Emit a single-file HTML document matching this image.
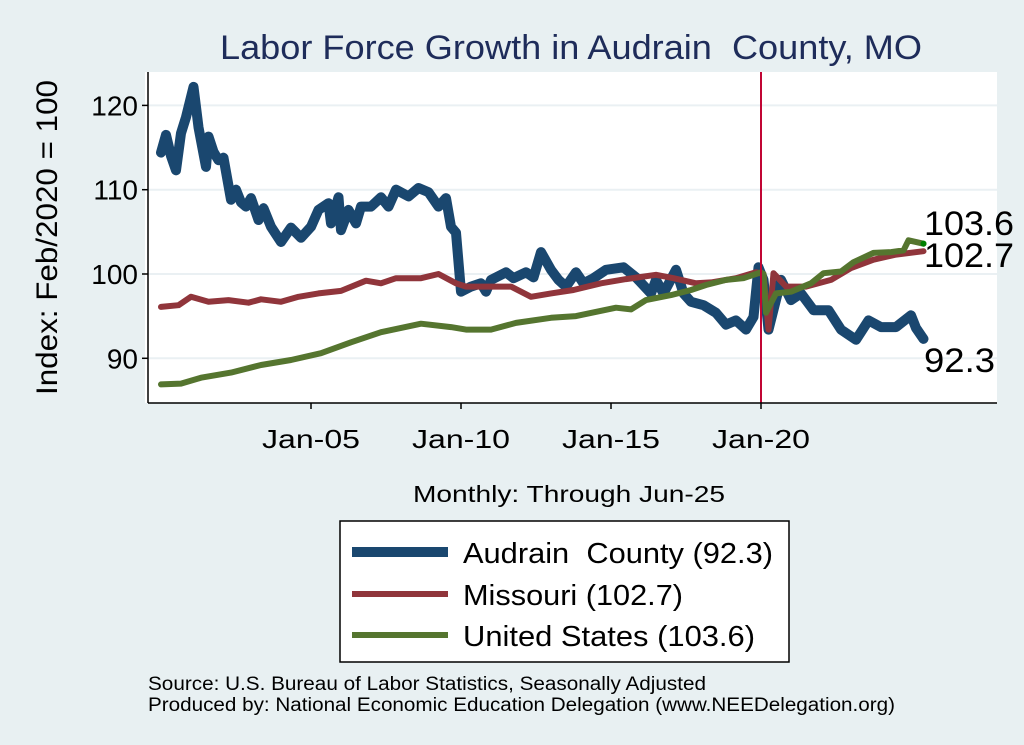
<!DOCTYPE html>
<html><head><meta charset="utf-8"><style>
body{margin:0;background:#e8f0f2;}
svg{display:block;font-family:"Liberation Sans",Arial,sans-serif;}
</style></head><body>
<svg id="chart" width="1024" height="745" viewBox="0 0 1024 745">
<rect x="0" y="0" width="1024" height="745" fill="#e8f0f2"/>
<rect x="145" y="72" width="852" height="331" fill="#ffffff"/>
<text x="220" y="59" font-size="34" fill="#1e2c5a" textLength="702" lengthAdjust="spacingAndGlyphs" xml:space="preserve">Labor Force Growth in Audrain  County, MO</text>
<g id="grid"></g>
<g id="series"></g>
<g id="axes"></g>
<text transform="translate(57,395) rotate(-90)" font-size="30" fill="#000" textLength="315" lengthAdjust="spacingAndGlyphs">Index: Feb/2020 = 100</text>
<text x="413" y="502" font-size="23" fill="#000" textLength="312" lengthAdjust="spacingAndGlyphs">Monthly: Through Jun-25</text>
<g>
<rect x="340" y="521" width="449" height="141" fill="#fff" stroke="#000" stroke-width="1.5"/>
<line x1="352" y1="552" x2="448" y2="552" stroke="#1a476f" stroke-width="10"/>
<text x="463" y="563" font-size="29" textLength="310" lengthAdjust="spacingAndGlyphs" xml:space="preserve">Audrain  County (92.3)</text>
<line x1="352" y1="594" x2="448" y2="594" stroke="#90353b" stroke-width="6"/>
<text x="463" y="605" font-size="29" textLength="220" lengthAdjust="spacingAndGlyphs">Missouri (102.7)</text>
<line x1="352" y1="635" x2="448" y2="635" stroke="#55752f" stroke-width="6"/>
<text x="463" y="646" font-size="29" textLength="292" lengthAdjust="spacingAndGlyphs">United States (103.6)</text>
</g>
<text x="148" y="690" font-size="19" textLength="558" lengthAdjust="spacingAndGlyphs">Source: U.S. Bureau of Labor Statistics, Seasonally Adjusted</text>
<text x="148" y="711" font-size="19" textLength="747" lengthAdjust="spacingAndGlyphs">Produced by: National Economic Education Delegation (www.NEEDelegation.org)</text>
</svg>
<script>
const yTicks=[90,100,110,120];
const xTickLabels=["Jan-05","Jan-10","Jan-15","Jan-20"];
const xTickMonths=[60,120,180,240];
const audrainMonths=[0,2,4,6,8,10,13,15,18,19,21,23,25,28,30,32,34,36,39,41,44,48,52,56,60,63,67,68,71,72,75,78,80,84,88,91,94,99,103,107,111,114,116,118,120,124,128,130,132,138,141,146,149,152,156,159,162,166,169,173,178,185,190,196,198,201,206,209,212,217,222,226,230,234,237,239,241,243,248,252,256,261,267,272,278,283,288,294,300,302,305];
const audrainValues=[114.4,116.5,114,112.3,116.7,118.6,122.2,117.4,112.7,116.3,114.5,113.5,113.8,108.8,110,108.5,108,109,106.4,107.8,105.6,103.8,105.5,104.3,105.6,107.6,108.4,106,109.1,105.2,107.6,106,108,108,109.1,108,110,109.2,110.2,109.7,108,109,105.6,104.9,97.9,98.5,98.9,97.9,99.3,100.2,99.5,100.2,99.6,102.6,100.5,99.3,98.5,100.2,98.9,99.5,100.5,100.8,99.6,97.7,99.3,97.7,100.5,97.7,96.7,96.3,95.4,94,94.5,93.4,94.9,100.8,99.3,93.4,99.3,96.9,97.7,95.7,95.7,93.4,92.2,94.5,93.7,93.7,95.1,93.6,92.3];
const moMonths=[0,7,12,19,27,35,40,48,55,63,72,82,88,94,104,111,118,122,140,148,156,165,176,186,198,205,214,220,230,238,241,243,245,250,258,268,276,285,294,305];
const moValues=[96.1,96.3,97.3,96.7,96.9,96.6,97,96.7,97.3,97.7,98,99.2,98.9,99.5,99.5,100,98.9,98.5,98.5,97.3,97.7,98.1,98.9,99.4,99.9,99.5,98.9,99,99.5,100.2,100,93.4,100.1,98.5,98.5,99.3,100.7,101.7,102.3,102.7];
const usMonths=[0,8,16,28,40,52,64,76,88,104,116,122,132,142,156,166,182,188,194,204,212,218,226,233,240,241,242,246,252,260,265,272,277,285,292,297,299,305];
const usValues=[86.9,87,87.7,88.3,89.2,89.8,90.6,91.9,93.1,94.1,93.7,93.4,93.4,94.2,94.8,95,96,95.8,96.9,97.5,98.1,98.7,99.3,99.5,100.2,100,95.4,97.7,97.9,98.9,100.1,100.3,101.4,102.5,102.6,102.8,104,103.6];
const eventMonth=240;

const X=m=>161+m*2.5;
const Y=v=>274-(v-100)*8.43;
const NS="http://www.w3.org/2000/svg";
function mk(tag,parent,attrs){const e=document.createElementNS(NS,tag);for(const k in attrs)e.setAttribute(k,attrs[k]);parent.appendChild(e);return e;}
const grid=document.getElementById('grid'),series=document.getElementById('series'),axes=document.getElementById('axes');
yTicks.forEach(v=>{
  const g=mk('line',grid,{x1:148,x2:997,y1:Y(v),y2:Y(v),stroke:'#eaf0f3','stroke-width':2});
  
  
  const t=mk('line',axes,{x1:142,x2:148,y1:Y(v),y2:Y(v),stroke:'#000','stroke-width':1.5});
  
  
  const l=mk('text',axes,{x:138,y:Y(v)+10,'text-anchor':'end','font-size':28});
  l.textContent=v;
  
  
});
xTickMonths.forEach((m,i)=>{
  const t=mk('line',axes,{x1:X(m),x2:X(m),y1:403,y2:409,stroke:'#000','stroke-width':1.5});
  
  
  const l=mk('text',axes,{x:X(m)-49,y:448,'font-size':26,textLength:98,lengthAdjust:'spacingAndGlyphs'});
  l.textContent=xTickLabels[i];
  
  
});
const ya=mk('line',axes,{x1:148,x2:148,y1:72,y2:403,stroke:'#000','stroke-width':1.5});


const xa=mk('line',axes,{x1:148,x2:997,y1:403,y2:403,stroke:'#000','stroke-width':1.5});


function path(ms,vs,color,w,name){
  const d=ms.map((m,i)=>(i?'L':'M')+X(m).toFixed(1)+','+Y(vs[i]).toFixed(1)).join('');
  const p=mk('path',series,{d:d,fill:'none',stroke:color,'stroke-width':w,'stroke-linejoin':'round','stroke-linecap':'round'});
  
  
}
path(audrainMonths,audrainValues,'#1a476f',10,'audrain-line');
path(moMonths,moValues,'#90353b',6,'missouri-line');
path(usMonths,usValues,'#55752f',6,'us-line');
const ev=mk('line',series,{x1:X(eventMonth),x2:X(eventMonth),y1:72,y2:403,stroke:'#c10534','stroke-width':2});


const lastUS=usValues[usValues.length-1],lastMO=moValues[moValues.length-1],lastA=audrainValues[audrainValues.length-1];
const dot=mk('circle',series,{cx:X(usMonths[usMonths.length-1]),cy:Y(lastUS),r:3,fill:'#008000'});


[[lastUS,235,'end-label-us',90],[lastMO,267,'end-label-missouri',90],[lastA,372,'end-label-audrain',71]].forEach(a=>{
  const t=mk('text',series,{x:924,y:a[1],'font-size':34,textLength:a[3],lengthAdjust:'spacingAndGlyphs'});
  t.textContent=a[0].toFixed(1);
  
  
});
</script>
</body></html>
